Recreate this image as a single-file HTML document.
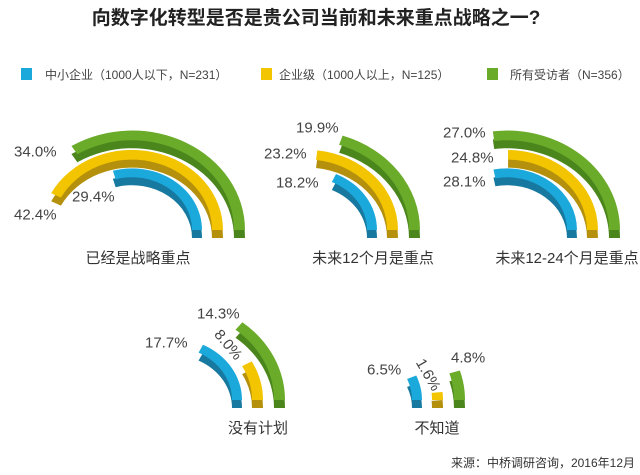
<!DOCTYPE html>
<html><head><meta charset="utf-8"><style>
html,body{margin:0;padding:0;background:#fff;}
svg{display:block;font-family:"Liberation Sans","Noto Sans CJK SC",sans-serif;}
</style></head><body>
<svg id="s" width="640" height="475" viewBox="0 0 640 475" xmlns="http://www.w3.org/2000/svg">
<rect width="640" height="475" fill="#fff"/>
<text x="316" y="24" text-anchor="middle" font-size="19" font-weight="bold" fill="#222">向数字化转型是否是贵公司当前和未来重点战略之一?</text>
<rect x="21" y="68" width="11" height="12" fill="#1ba9dc"/>
<text x="45" y="79" font-size="12" fill="#444">中小企业（1000人以下，N=231）</text>
<rect x="261" y="68" width="11" height="12" fill="#f2c500"/>
<text x="279" y="79" font-size="12" fill="#444">企业级（1000人以上，N=125）</text>
<rect x="487" y="68" width="11" height="12" fill="#6aab2a"/>
<text x="510" y="79" font-size="12" fill="#444">所有受访者（N=356）</text>
<g id="arcs"></g>
<g font-size="15" fill="#444" dominant-baseline="central">
<text x="14" y="152">34.0%</text>
<text x="14" y="215">42.4%</text>
<text x="72" y="197">29.4%</text>
<text x="296" y="128">19.9%</text>
<text x="264" y="154">23.2%</text>
<text x="276" y="183">18.2%</text>
<text x="443" y="133">27.0%</text>
<text x="451" y="158">24.8%</text>
<text x="443" y="182">28.1%</text>
<text x="197" y="314">14.3%</text>
<text x="145" y="343">17.7%</text>
<text x="228" y="345" text-anchor="middle" transform="rotate(50 228 345)">8.0%</text>
<text x="367" y="370">6.5%</text>
<text x="428" y="375" text-anchor="middle" transform="rotate(60 428 375)">1.6%</text>
<text x="451" y="358">4.8%</text>
</g>
<g font-size="15" fill="#333" text-anchor="middle">
<text x="138" y="263">已经是战略重点</text>
<text x="373" y="263">未来12个月是重点</text>
<text x="567" y="263">未来12-24个月是重点</text>
<text x="258" y="433">没有计划</text>
<text x="437" y="433">不知道</text>
</g>
<text x="635" y="467" text-anchor="end" font-size="12" fill="#333">来源：中桥调研咨询，2016年12月</text>
</svg>
<script>
var groups=[[132,230,[29.4,42.4,34.0]],[307,230,[18.2,23.2,19.9]],[507,230,[28.1,24.8,27.0]],[172,400,[17.7,8.0,14.3]],[352,400,[6.5,1.6,4.8]]];
var radii=[[60,70],[80,91],[102,113]];
var light=["#1ba9dc","#f2c500","#6aab2a"],dark=["#17799f","#b4900c","#4b861d"];
var k=0.88,out="";
function pt(cx,cy,r,a){return (cx+r*Math.cos(a)).toFixed(2)+","+(cy-k*r*Math.sin(a)).toFixed(2);}
function path(cx,cy,r1,r2,v){var a=v/100*2*Math.PI;var lg=a>Math.PI?1:0;
return "M"+pt(cx,cy,r2,0)+" A"+r2+","+(r2*k)+" 0 "+lg+" 0 "+pt(cx,cy,r2,a)+" L"+pt(cx,cy,r1,a)+" A"+r1+","+(r1*k)+" 0 "+lg+" 1 "+pt(cx,cy,r1,0)+" Z";}
groups.forEach(function(g){for(var i=0;i<3;i++){var d=path(g[0],g[1],radii[i][0],radii[i][1],g[2][i]);
out+='<path d="'+d+'" fill="'+dark[i]+'" transform="translate(0,8)"/>';
out+='<path d="'+d+'" fill="'+light[i]+'"/>';}});
document.getElementById("arcs").innerHTML=out;
</script>
</body></html>
